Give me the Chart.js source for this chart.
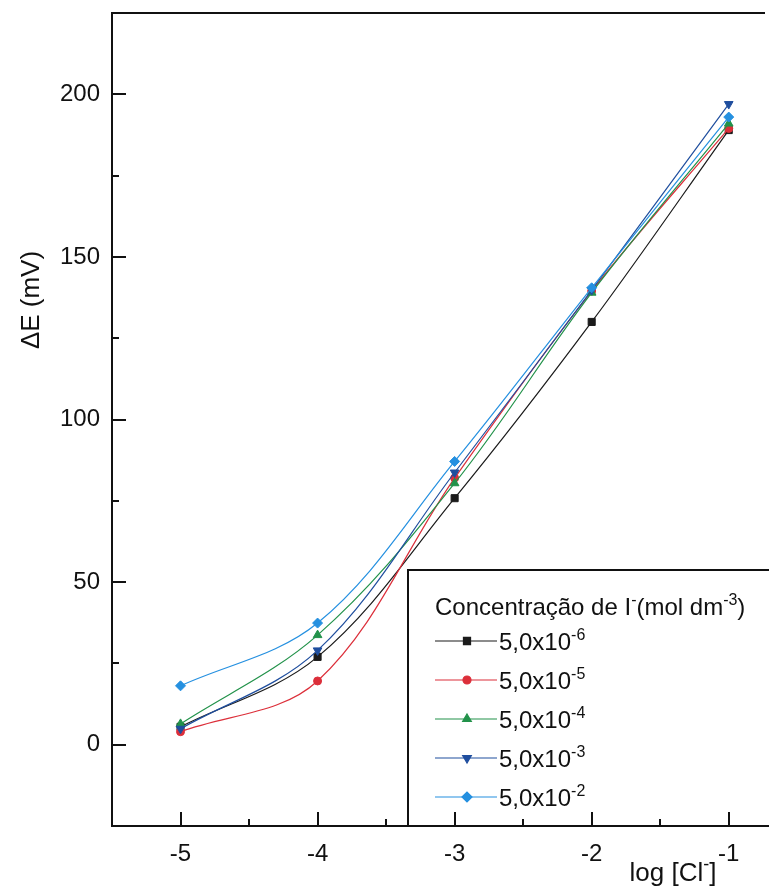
<!DOCTYPE html>
<html>
<head>
<meta charset="utf-8">
<title>ΔE x log [Cl-]</title>
<script src="https://cdn.jsdelivr.net/npm/chart.js"></script>
<style>
html, body { margin: 0; padding: 0; background: #fff; overflow: hidden; }
#chart_wrapper { width: 769px; height: 890px; }
</style>
</head>
<body>
<div id="chart_wrapper"><canvas id="chart" width="769" height="890"></canvas></div>
<script>
/*jslint browser: true*/
/*global Chart*/

var FONT = "'Liberation Sans', Arial, sans-serif";

// log [Cl-]
var logCl = [-5, -4, -3, -2, -1];

// delta E (mV) for each I- concentration
var conc6 = [5.5, 27, 75.8, 130, 189];
var conc5 = [4, 19.6, 82, 139.5, 189.5];
var conc4 = [6.4, 33.7, 80.4, 139, 191];
var conc3 = [4.9, 29, 83.7, 139.8, 197];
var conc2 = [18.1, 37.4, 87.1, 140.5, 193];

var seriesExp = ["-6", "-5", "-4", "-3", "-2"];

var xTicks = [-5, -4, -3, -2, -1];
var xMinor = [-4.5, -3.5, -2.5, -1.5];
var yTicks = [0, 50, 100, 150, 200];
var yMinor = [25, 75, 125, 175];

function pts(values) {
    "use strict";
    return values.map(function (v, i) {
        return {x: logCl[i], y: v};
    });
}

function makeSet(values, exp, color, style, rot, radius, order) {
    "use strict";
    return {
        label: "5,0x10^" + exp,
        data: pts(values),
        borderColor: color,
        backgroundColor: color,
        borderWidth: 1.2,
        pointStyle: style,
        pointRotation: rot,
        pointRadius: radius,
        pointBorderWidth: 1,
        tension: 0.35,
        order: order
    };
}

var chartData = {
    datasets: [
        makeSet(conc6, seriesExp[0], "#1b1b1b", "rect", 0, 5, 4),
        makeSet(conc5, seriesExp[1], "#dc2f3a", "circle", 0, 4, 3),
        makeSet(conc4, seriesExp[2], "#22924a", "triangle", 0, 5, 2),
        makeSet(conc3, seriesExp[3], "#1f4e9e", "triangle", 180, 5, 1),
        makeSet(conc2, seriesExp[4], "#2590e0", "rectRot", 0, 5, 0)
    ]
};

// text with superscripts, returns end x
function drawRich(ctx, parts, x, y, size) {
    "use strict";
    var i, p;
    for (i = 0; i < parts.length; i += 1) {
        p = parts[i];
        if (p.sup) {
            ctx.font = Math.round(size * 0.68) + "px " + FONT;
            ctx.fillText(p.t, x, y - size * 0.42);
        } else {
            ctx.font = size + "px " + FONT;
            ctx.fillText(p.t, x, y);
        }
        x += ctx.measureText(p.t).width;
    }
    return x;
}

function richWidth(ctx, parts, size) {
    "use strict";
    var w = 0;
    parts.forEach(function (p) {
        ctx.font = (p.sup ? Math.round(size * 0.68) : size) + "px " + FONT;
        w += ctx.measureText(p.t).width;
    });
    return w;
}

var legendBox = {
    id: "legendBox",
    afterDatasetsDraw: function (chart) {
        "use strict";
        var ctx = chart.ctx,
            area = chart.chartArea,
            left = 408,
            top = 570,
            rowY = 641,
            rowGap = 39;
        ctx.save();
        ctx.fillStyle = "#fff";
        ctx.fillRect(left, top, area.right - left + 10, area.bottom - top);
        ctx.strokeStyle = "#111";
        ctx.lineWidth = 2;
        ctx.strokeRect(left, top, area.right - left + 10, area.bottom - top);

        ctx.fillStyle = "#111";
        ctx.textAlign = "left";
        ctx.textBaseline = "alphabetic";
        drawRich(ctx, [
            {t: "Concentração de I"},
            {t: "-", sup: true},
            {t: "(mol dm"},
            {t: "-3", sup: true},
            {t: ")"}
        ], 435, 615, 24);

        chart.data.datasets.forEach(function (ds, i) {
            var y = rowY + i * rowGap,
                bits = ds.label.split("^");
            ctx.strokeStyle = ds.borderColor;
            ctx.lineWidth = 1.2;
            ctx.beginPath();
            ctx.moveTo(435, y);
            ctx.lineTo(497, y);
            ctx.stroke();
            ctx.fillStyle = ds.backgroundColor;
            Chart.helpers.drawPoint(ctx, {
                pointStyle: ds.pointStyle,
                rotation: ds.pointRotation,
                radius: ds.pointRadius,
                borderWidth: 1
            }, 467, y);
            ctx.fillStyle = "#111";
            drawRich(ctx, [{t: bits[0]}, {t: bits[1], sup: true}], 499, y + 9, 24);
        });
        ctx.restore();
    }
};

var frame = {
    id: "frame",
    afterDraw: function (chart) {
        "use strict";
        var ctx = chart.ctx,
            area = chart.chartArea,
            xs = chart.scales.x,
            ys = chart.scales.y,
            w;
        ctx.save();
        ctx.strokeStyle = "#111";
        ctx.lineWidth = 2;
        ctx.beginPath();
        ctx.moveTo(area.left - 1, area.top);
        ctx.lineTo(area.right + 2, area.top);
        ctx.stroke();

        ctx.beginPath();
        xTicks.forEach(function (v) {
            var px = Math.round(xs.getPixelForValue(v));
            ctx.moveTo(px, area.bottom);
            ctx.lineTo(px, area.bottom - 14);
        });
        xMinor.forEach(function (v) {
            var px = Math.round(xs.getPixelForValue(v));
            ctx.moveTo(px, area.bottom);
            ctx.lineTo(px, area.bottom - 7);
        });
        yTicks.forEach(function (v) {
            var py = Math.round(ys.getPixelForValue(v));
            ctx.moveTo(area.left, py);
            ctx.lineTo(area.left + 14, py);
        });
        yMinor.forEach(function (v) {
            var py = Math.round(ys.getPixelForValue(v));
            ctx.moveTo(area.left, py);
            ctx.lineTo(area.left + 7, py);
        });
        ctx.stroke();

        // axis titles
        ctx.fillStyle = "#111";
        ctx.textAlign = "left";
        ctx.textBaseline = "alphabetic";
        var xTitle = [{t: "log [Cl"}, {t: "-", sup: true}, {t: "]"}];
        w = richWidth(ctx, xTitle, 26);
        drawRich(ctx, xTitle, 673 - w / 2, 881, 26);

        ctx.translate(30, 300);
        ctx.rotate(-Math.PI / 2);
        ctx.font = "26px " + FONT;
        ctx.textAlign = "center";
        ctx.fillText("ΔE (mV)", 0, 9);
        ctx.restore();
    }
};

var options = {
    responsive: false,
    devicePixelRatio: 1,
    animation: false,
    layout: {padding: {top: 13, left: 0, right: 0, bottom: 0}},
    plugins: {
        legend: {display: false},
        tooltip: {enabled: false}
    },
    scales: {
        x: {
            type: "linear",
            min: -5.5,
            max: -0.75,
            afterBuildTicks: function (scale) {
                scale.ticks = xTicks.map(function (v) {
                    return {value: v};
                });
            },
            afterFit: function (scale) {
                scale.height = 64;
                scale.paddingLeft = 0;
                scale.paddingRight = 0;
            },
            grid: {display: false, drawTicks: false},
            border: {display: true, color: "#111", width: 2},
            ticks: {
                color: "#111",
                font: {family: FONT, size: 24},
                padding: 14,
                maxRotation: 0,
                autoSkip: false,
                callback: function (v) {
                    return String(v);
                }
            }
        },
        y: {
            type: "linear",
            min: -25,
            max: 225,
            afterBuildTicks: function (scale) {
                scale.ticks = yTicks.map(function (v) {
                    return {value: v};
                });
            },
            afterFit: function (scale) {
                scale.width = 112;
                scale.paddingTop = 0;
                scale.paddingBottom = 0;
            },
            grid: {display: false, drawTicks: false},
            border: {display: true, color: "#111", width: 2},
            ticks: {
                color: "#111",
                font: {family: FONT, size: 24},
                padding: 12,
                autoSkip: false,
                callback: function (v) {
                    return String(v);
                }
            }
        }
    }
};

var canvas = document.getElementById("chart");
var myChart = new Chart(canvas.getContext("2d"), {
    type: "line",
    data: chartData,
    options: options,
    plugins: [legendBox, frame]
});
</script>
</body>
</html>
